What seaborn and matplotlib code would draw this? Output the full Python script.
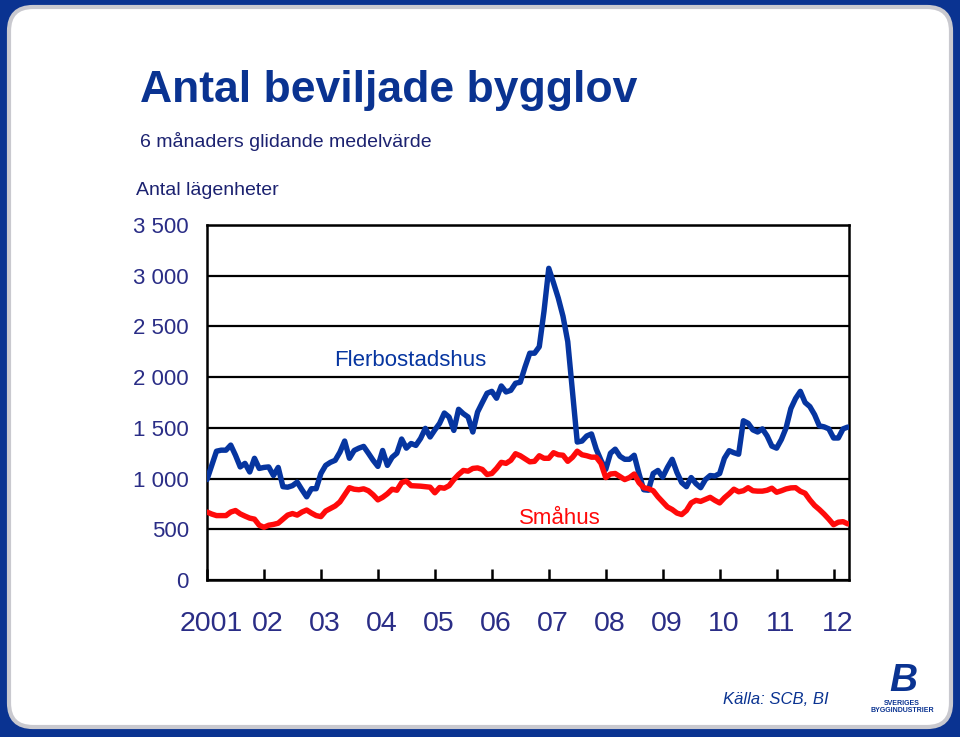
import numpy as np
import pandas as pd
import matplotlib
matplotlib.use("Agg")
import matplotlib.pyplot as plt
import matplotlib.transforms as mtransforms
import seaborn as sns
from matplotlib.patches import FancyBboxPatch
from matplotlib.ticker import FuncFormatter, MultipleLocator

# ---------------- data (monthly, Jan 2001 - Apr 2012, 6-month moving average) ----------------
year_labels = ["2001", "02", "03", "04", "05", "06", "07", "08", "09", "10", "11", "12"]

flerbostadshus = [
    990, 1130, 1270, 1280, 1280, 1330, 1230, 1115, 1150, 1065, 1200, 1100,
    1110, 1115, 1030, 1110, 920, 915, 930, 965, 890, 820, 900, 900,
    1050, 1130, 1160, 1180, 1260, 1370, 1200, 1277, 1300, 1317, 1250, 1180,
    1120, 1277, 1130, 1210, 1250, 1390, 1300, 1346, 1327, 1396, 1495, 1410,
    1480, 1544, 1646, 1607, 1475, 1683, 1640, 1607, 1459, 1656, 1750, 1841,
    1860, 1792, 1913, 1854, 1870, 1940, 1950, 2100, 2236, 2236, 2300, 2650,
    3073, 2930, 2780, 2600, 2350, 1850, 1360, 1370, 1420, 1440, 1290, 1180,
    1090, 1250, 1290, 1220, 1190, 1190, 1230, 1050, 890, 885, 1050, 1080,
    1014, 1110, 1190, 1060, 960, 920, 1010, 950, 910, 990, 1030, 1025,
    1050, 1200, 1275, 1255, 1240, 1570, 1545, 1480, 1459, 1490, 1420, 1320,
    1300, 1385, 1500, 1690, 1790, 1860, 1750, 1710, 1630, 1520, 1510, 1490,
    1400, 1400, 1490, 1508,
]

smahus = [
    670, 650, 635, 635, 635, 670, 685, 652, 630, 610, 600, 540,
    520, 540, 548, 560, 600, 640, 655, 640, 670, 690, 660, 635,
    625, 680, 705, 730, 770, 840, 910, 895, 890, 899, 880, 840,
    790, 815, 850, 895, 885, 960, 975, 930, 928, 925, 920, 915,
    860, 912, 905, 930, 990, 1040, 1080, 1073, 1100, 1105, 1090, 1040,
    1050, 1100, 1160, 1150, 1180, 1245, 1225, 1195, 1165, 1170, 1225, 1200,
    1200, 1255, 1235, 1230, 1170, 1210, 1270, 1235, 1225, 1211, 1211, 1150,
    1010, 1045, 1050, 1020, 990, 1010, 1045, 960, 910, 900, 880, 820,
    770, 720, 695, 660, 645, 685, 760, 785, 775, 795, 815, 785,
    760, 810, 850, 895, 870, 880, 910, 880, 876, 876, 885, 905,
    865, 880, 898, 908, 910, 875, 855, 790, 735, 695, 650, 600,
    545, 570, 575, 553,
]

series_names = ["Flerbostadshus", "Småhus"]

# ---------------- styling ----------------
NAVY = "#0a3391"
TXT = "#2a2d86"
BLUE = "#0635a0"
RED = "#ff0a0a"

sns.set_style("white")
plt.rcParams["font.family"] = ["Liberation Sans", "DejaVu Sans"]

n = len(flerbostadshus)
months = np.arange(n)
df = pd.DataFrame({
    "month": np.concatenate([months, months]),
    "value": flerbostadshus + smahus,
    "serie": [series_names[0]] * n + [series_names[1]] * n,
})

W, H = 960, 737
fig = plt.figure(figsize=(W / 100, H / 100), dpi=100)
fig.patch.set_facecolor(NAVY)

panel = FancyBboxPatch((9 / W, 1 - 727 / H), 942 / W, 720 / H,
                       boxstyle="round,pad=0,rounding_size=0.025",
                       mutation_aspect=W / H,
                       transform=fig.transFigure, facecolor="white",
                       edgecolor="#c9c9cf", lw=3, zorder=-5)
fig.patches.append(panel)

ax = fig.add_axes([207 / W, 1 - 580 / H, 642 / W, 355 / H])
ax.set_zorder(2)
ax.set_facecolor("white")

sns.lineplot(data=df, x="month", y="value", hue="serie",
             palette={series_names[0]: BLUE, series_names[1]: RED},
             linewidth=3.9, legend=False, ax=ax, zorder=3)

ax.set_xlim(0, 135.25)
ax.set_ylim(0, 3500)
ax.yaxis.set_major_locator(MultipleLocator(500))
ax.yaxis.set_major_formatter(FuncFormatter(lambda v, p: f"{int(v):,}".replace(",", " ")))
ax.grid(axis="y", color="black", lw=1.6, zorder=1)
ax.grid(axis="x", visible=False)
ax.set_axisbelow(True)
for s in ax.spines.values():
    s.set_visible(True)
    s.set_color("black")
    s.set_linewidth(1.8)

ax.set_xticks(np.arange(0, n, 12))
ax.set_xticklabels(year_labels)
ax.tick_params(axis="x", direction="in", length=8, width=1.8, color="black",
               labelsize=20.5, labelcolor=TXT, pad=22, bottom=True)
ax.tick_params(axis="y", length=0, labelsize=16, labelcolor=TXT, pad=13)
ax.set_xlabel("")
ax.set_ylabel("")
shift = mtransforms.ScaledTranslation(4 / 100, 0, fig.dpi_scale_trans)
for lbl in ax.get_xticklabels():
    lbl.set_transform(lbl.get_transform() + shift)

# series labels
ax.text(42.9, 2160, "Flerbostadshus", color=BLUE, fontsize=16, ha="center", va="center")
ax.text(74.3, 605, "Småhus", color=RED, fontsize=16, ha="center", va="center")

# titles
fig.text(140 / W, 1 - 102 / H, "Antal beviljade bygglov", fontsize=32, fontweight="bold",
         color=NAVY, ha="left", va="baseline")
fig.text(140 / W, 1 - 147 / H, "6 månaders glidande medelvärde", fontsize=14,
         color="#1c2270", ha="left", va="baseline")
fig.text(136 / W, 1 - 195 / H, "Antal lägenheter", fontsize=14,
         color="#1c2270", ha="left", va="baseline")

# source
fig.text(723 / W, 1 - 699 / H, "Källa: SCB, BI", fontsize=12, fontstyle="italic",
         color=NAVY, ha="left", va="center")

# logo (text approximation)
fig.text(903 / W, 1 - 699 / H, "B", fontsize=28, fontweight="bold", fontstyle="italic",
         color=NAVY, ha="center", va="bottom")
fig.text(902 / W, 1 - 703.5 / H, "SVERIGES", fontsize=5, fontweight="bold",
         color=NAVY, ha="center", va="center")
fig.text(902 / W, 1 - 711 / H, "BYGGINDUSTRIER", fontsize=5, fontweight="bold",
         color=NAVY, ha="center", va="center")

fig.savefig("out.png", dpi=100, facecolor=fig.get_facecolor())
